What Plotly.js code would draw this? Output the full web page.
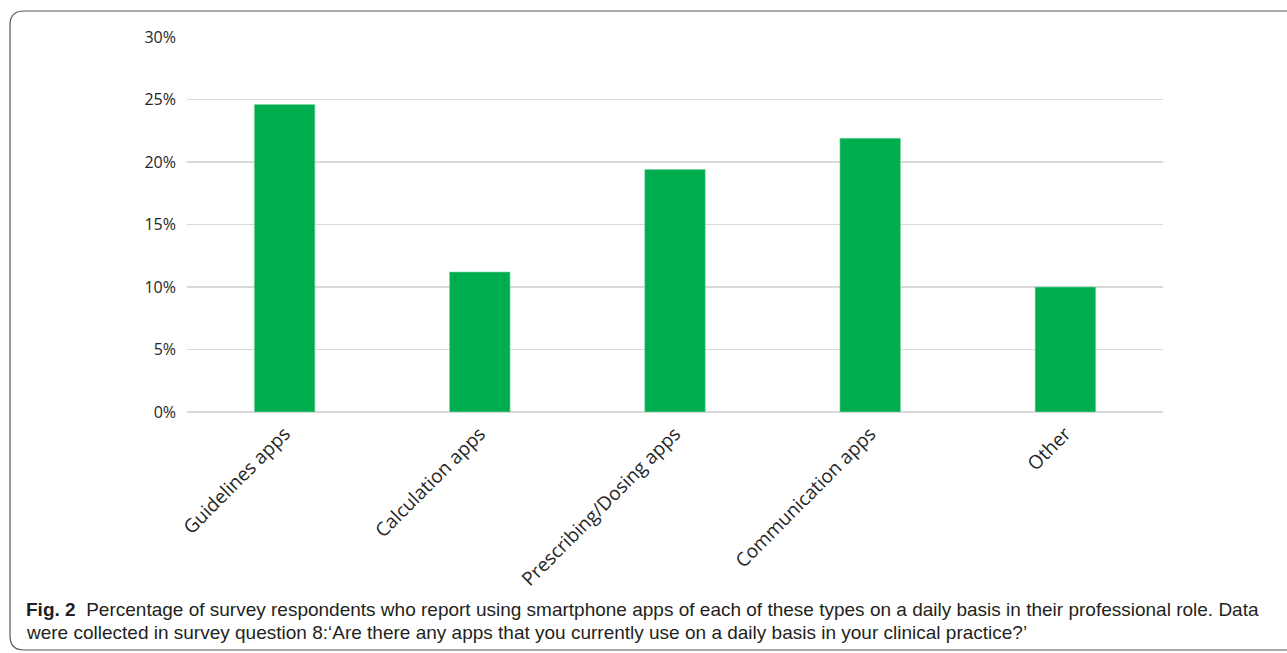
<!DOCTYPE html>
<html>
<head>
<meta charset="utf-8">
<script src="https://cdn.plot.ly/plotly-3.0.1.min.js"></script>
<style>html,body{margin:0;padding:0;background:#fff;}#chart{width:1287px;height:653px;}</style>
</head>
<body>
<div id="chart"></div>
<script>
const categories = ["Guidelines apps", "Calculation apps", "Prescribing/Dosing apps", "Communication apps", "Other"];
const percentages = [24.6, 11.2, 19.4, 21.9, 10.0];
const yTickValues = [0, 5, 10, 15, 20, 25, 30];
const yTickLabels = ["0%", "5%", "10%", "15%", "20%", "25%", "30%"];
const captionBold = "Fig. 2";
const captionText = "Percentage of survey respondents who report using smartphone apps of each of these types on a daily basis in their professional role. Data";
const captionText2 = "were collected in survey question 8:\u2018Are there any apps that you currently use on a daily basis in your clinical practice?\u2019";

const W = 1287, H = 653;
const M = {l: 187, r: 124, t: 37, b: 241};
const pw = W - M.l - M.r, ph = H - M.t - M.b;
const px = x => (x - M.l) / pw;
const py = y => 1 - (y - M.t) / ph;

// rounded frame
const x0 = 10, x1 = 1300, y0 = 11, y1 = 650, r = 14;
const framePath = [
  `M ${px(x0)} ${py(y0 + r)}`,
  `Q ${px(x0)} ${py(y0)} ${px(x0 + r)} ${py(y0)}`,
  `L ${px(x1 - r)} ${py(y0)}`,
  `Q ${px(x1)} ${py(y0)} ${px(x1)} ${py(y0 + r)}`,
  `L ${px(x1)} ${py(y1 - r)}`,
  `Q ${px(x1)} ${py(y1)} ${px(x1 - r)} ${py(y1)}`,
  `L ${px(x0 + r)} ${py(y1)}`,
  `Q ${px(x0)} ${py(y1)} ${px(x0)} ${py(y1 - r)}`,
  'Z'
].join(' ');

const data = [{
  type: 'bar',
  x: categories,
  y: percentages,
  marker: {color: '#00ad4e', line: {color: '#7fd6a6', width: 0.6}},
  hoverinfo: 'x+y'
}];

const captionFont = {family: 'Liberation Sans, Arial, sans-serif', size: 19, color: '#231f20'};

const layout = {
  width: W, height: H,
  margin: M,
  paper_bgcolor: '#fff', plot_bgcolor: '#fff',
  showlegend: false,
  bargap: 0.69,
  font: {family: 'Open Sans, sans-serif', color: '#262626', size: 16},
  xaxis: {
    type: 'category',
    tickangle: -45,
    ticklabelstandoff: 6,
    tickfont: {family: 'Open Sans, sans-serif', size: 19, color: '#262626'},
    showgrid: false, showline: false, ticks: '', zeroline: false, automargin: false
  },
  yaxis: {
    range: [0, 30],
    tickmode: 'array',
    tickvals: yTickValues,
    ticktext: yTickLabels,
    ticklabelstandoff: 10,
    tickfont: {family: 'Open Sans, sans-serif', size: 16, color: '#262626'},
    showgrid: true, gridcolor: '#d9d9d9', gridwidth: 1.5,
    zeroline: true, zerolinecolor: '#d9d9d9', zerolinewidth: 1.5,
    showline: false, ticks: '', automargin: false
  },
  shapes: [{
    type: 'path', xref: 'paper', yref: 'paper', path: framePath,
    line: {color: '#555', width: 1.2}, fillcolor: 'rgba(0,0,0,0)', layer: 'below'
  }],
  annotations: [{
    xref: 'paper', yref: 'paper', x: px(24), y: py(609),
    xanchor: 'left', yanchor: 'middle', align: 'left', showarrow: false,
    text: '<b>' + captionBold + '</b>  ' + captionText,
    font: captionFont
  }, {
    xref: 'paper', yref: 'paper', x: px(24), y: py(632),
    xanchor: 'left', yanchor: 'middle', align: 'left', showarrow: false,
    text: captionText2,
    font: captionFont
  }]
};

Plotly.newPlot('chart', data, layout, {displayModeBar: false, staticPlot: true});
</script>
</body>
</html>
